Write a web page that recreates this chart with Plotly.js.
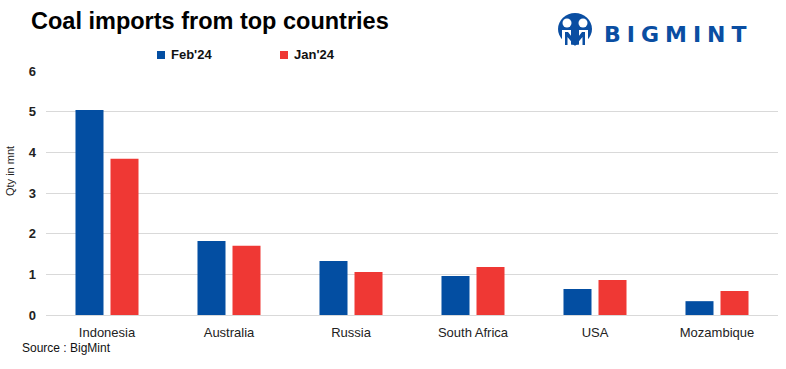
<!DOCTYPE html>
<html><head><meta charset="utf-8">
<script src="https://cdn.plot.ly/plotly-3.0.1.min.js"></script>
<style>html,body{margin:0;padding:0;background:#fff}#chart{width:786px;height:369px}</style>
</head><body><div id="chart"></div>
<script>
const categories = ['Indonesia','Australia','Russia','South Africa','USA','Mozambique'];
const feb24 = [5.04, 1.82, 1.33, 0.96, 0.64, 0.34];
const jan24 = [3.84, 1.70, 1.06, 1.18, 0.86, 0.59];
const seriesNames = ["Feb'24", "Jan'24"];
const seriesColors = ['#034ea2', '#ef3834'];
const yTicks = [0,1,2,3,4,5,6];

const W = 786, H = 369, L = 46, R = 8, T = 71, B = 54;
const pw = W - L - R, ph = H - T - B;
const px = x => (x - L) / pw;
const py = y => (H - B - y) / ph;

const font = 'Liberation Sans, Arial, sans-serif';

const traces = [feb24, jan24].map((vals, i) => ({
  type: 'bar', x: categories, y: vals, name: seriesNames[i],
  marker: {color: seriesColors[i]}, hoverinfo: 'x+y', showlegend: false
}));

// manual legend
const legendX = [157, 280];
const shapes = [];
const annotations = [];
seriesNames.forEach((n, i) => {
  shapes.push({type:'rect', xref:'paper', yref:'paper', x0:px(legendX[i]), x1:px(legendX[i]+8), y0:py(59), y1:py(51), fillcolor:seriesColors[i], line:{width:0}});
  annotations.push({text:'<b>'+n+'</b>', xref:'paper', yref:'paper', x:px(legendX[i]+12), y:py(55), xanchor:'left', yanchor:'middle', showarrow:false, font:{family:font, size:13, color:'#111'}});
});

// logo icon
const cx = 575, cy = 29;
shapes.push({type:'circle', xref:'paper', yref:'paper', x0:px(cx-17), x1:px(cx+17), y0:py(cy+16), y1:py(cy-16), fillcolor:'#0a4ea2', line:{width:0}});
[[567,23],[583,23]].forEach(([hx,hy]) => {
  shapes.push({type:'circle', xref:'paper', yref:'paper', x0:px(hx-4.5), x1:px(hx+4.5), y0:py(hy+4.5), y1:py(hy-4.5), fillcolor:'#fff', line:{width:0}});
});
function pathPx(pts){ return 'M' + pts.map(p => px(p[0]) + ',' + py(p[1])).join(' L') + ' Z'; }
shapes.push({type:'path', xref:'paper', yref:'paper', path: pathPx([[562,30],[571,30],[571,45],[562,45]]), fillcolor:'#fff', line:{width:0}});
shapes.push({type:'path', xref:'paper', yref:'paper', path: pathPx([[579,30],[588,30],[588,45],[579,45]]), fillcolor:'#fff', line:{width:0}});
shapes.push({type:'path', xref:'paper', yref:'paper', path: pathPx([[565,32],[568,32],[575,41],[582,32],[585,32],[585,45],[582.5,45],[582.5,37],[575,46],[567.5,37],[567.5,45],[565,45]]), fillcolor:'#0a4ea2', line:{width:0}});

annotations.push({text:'<b><span style="letter-spacing:6px">BIGMINT</span></b>', xref:'paper', yref:'paper', x:px(602), y:py(34), xanchor:'left', yanchor:'middle', showarrow:false, font:{family:'DejaVu Sans, sans-serif', size:22, color:'#0a4ea2'}});

annotations.push({text:'Qty in mnt', xref:'paper', yref:'paper', x:px(10), y:py(171), textangle:-90, xanchor:'center', yanchor:'middle', showarrow:false, font:{family:font, size:11, color:'#222'}});
annotations.push({text:'Source : BigMint', xref:'paper', yref:'paper', x:px(20), y:py(348), xanchor:'left', yanchor:'middle', showarrow:false, font:{family:font, size:12, color:'#111'}});

const layout = {
  width: W, height: H,
  margin: {l:L, r:R, t:T, b:B, pad:0},
  paper_bgcolor:'#fff', plot_bgcolor:'#fff',
  title: {text:'<b>Coal imports from top countries</b>', x:31/W, xanchor:'left', xref:'container', yref:'container', y:1-21/H, yanchor:'middle', font:{family:font, size:23.5, color:'#000'}},
  barmode:'group', bargap:0.426, bargroupgap:0.2,
  xaxis: {type:'category', showgrid:false, zeroline:false, showline:false, ticks:'', tickfont:{family:font, size:13, color:'#222'}, ticklabelstandoff:8, fixedrange:true},
  yaxis: {range:[0,6], tickvals:yTicks, ticktext:yTicks.map(v=>'<b>'+v+'</b>'), showgrid:true, gridcolor:'#d9d9d9', gridwidth:1, zeroline:true, zerolinecolor:'#d9d9d9', zerolinewidth:1, showline:false, ticks:'', tickfont:{family:font, size:13, color:'#222'}, ticklabelstandoff:9, fixedrange:true},
  shapes: shapes, annotations: annotations, showlegend:false
};
Plotly.newPlot('chart', traces, layout, {displayModeBar:false, staticPlot:true});
</script></body></html>
